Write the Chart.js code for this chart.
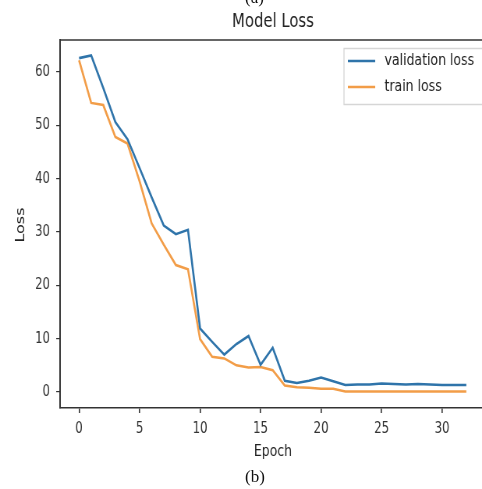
<!DOCTYPE html>
<html><head><meta charset="utf-8">
<script src="https://cdn.jsdelivr.net/npm/chart.js@4/dist/chart.umd.min.js"></script>
<style>
html,body{margin:0;padding:0;background:#fff;}
#wrap{position:relative;width:482px;height:489px;overflow:hidden;}
#squeeze{position:absolute;left:0;top:0;width:618px;height:489px;transform:scaleX(0.78);transform-origin:0 0;}
canvas{position:absolute;left:0;top:0;}
.cap{position:absolute;font-family:"Liberation Serif","DejaVu Serif",serif;font-size:17px;color:#111;}
</style></head>
<body>
<div id="wrap">
<div id="squeeze"><canvas id="c" width="618" height="489" style="width:618px;height:489px"></canvas></div>
<div class="cap" style="left:245px;top:-12px;">(a)</div>
<div class="cap" style="left:245px;top:467px;">(b)</div>
</div>
<script>
const epochs = [0,1,2,3,4,5,6,7,8,9,10,11,12,13,14,15,16,17,18,19,20,21,22,23,24,25,26,27,28,29,30,31,32];
const validationLoss = [62.6,63.1,57.0,50.6,47.4,42.0,36.5,31.2,29.6,30.4,11.9,9.4,7.0,9.0,10.5,5.1,8.3,2.1,1.7,2.1,2.7,2.0,1.3,1.4,1.4,1.6,1.5,1.4,1.5,1.4,1.3,1.3,1.3];
const trainLoss = [62.2,54.2,53.8,47.8,46.6,39.5,31.6,27.6,23.8,23.0,9.9,6.6,6.3,5.0,4.6,4.7,4.1,1.2,0.9,0.8,0.6,0.6,0.1,0.1,0.1,0.1,0.1,0.1,0.1,0.1,0.1,0.1,0.1];
const xTicks = [0,5,10,15,20,25,30];
const yTicks = [0,10,20,30,40,50,60];
const seriesNames = ["validation loss","train loss"];
const colors = ["#2f74aa","#f29d48"];

const decor = {
  id:'decor',
  afterDraw(chart){
    const ctx = chart.ctx, a = chart.chartArea;
    ctx.save();
    ctx.strokeStyle = '#333'; ctx.lineWidth = 1.6;
    ctx.beginPath(); ctx.moveTo(a.left, a.top); ctx.lineTo(a.right, a.top); ctx.stroke();
    ctx.fillStyle = '#222';
    ctx.font = '19px "DejaVu Sans"';
    ctx.textAlign = 'center'; ctx.textBaseline = 'middle';
    ctx.fillText('Model Loss', 350, 22);
    ctx.font = '16px "DejaVu Sans"';
    ctx.fillText('Epoch', 350, 452);
    ctx.save();
    ctx.translate(27, 225); ctx.rotate(-Math.PI/2);
    ctx.fillText('Loss', 0, 0);
    ctx.restore();
    // legend
    const lx = 441, ly = 48, lw = 200, lh = 56;
    ctx.fillStyle = 'rgba(255,255,255,0.9)';
    ctx.strokeStyle = '#d6d6d6'; ctx.lineWidth = 1.3;
    ctx.beginPath(); ctx.rect(lx, ly+0.5, lw, lh); ctx.fill(); ctx.stroke();
    ctx.font = '16px "DejaVu Sans"'; ctx.textAlign = 'left';
    seriesNames.forEach((n,i)=>{
      const y = ly + 13 + i*26;
      ctx.strokeStyle = colors[i]; ctx.lineWidth = 2.6;
      ctx.beginPath(); ctx.moveTo(446, y); ctx.lineTo(481, y); ctx.stroke();
      ctx.fillStyle = '#222';
      ctx.fillText(n, 493, y);
    });
    ctx.restore();
  }
};

new Chart(document.getElementById('c'), {
  type:'line',
  data:{
    labels: epochs,
    datasets:[
      {label:seriesNames[0], data: epochs.map((e,i)=>({x:e,y:validationLoss[i]})), borderColor:colors[0], borderWidth:2.6, pointRadius:0, tension:0, fill:false},
      {label:seriesNames[1], data: epochs.map((e,i)=>({x:e,y:trainLoss[i]})), borderColor:colors[1], borderWidth:2.6, pointRadius:0, tension:0, fill:false}
    ]
  },
  options:{
    responsive:false, animation:false, devicePixelRatio:1,
    layout:{padding:{top:40,left:0,right:0,bottom:0}},
    plugins:{legend:{display:false}, tooltip:{enabled:false}},
    scales:{
      x:{type:'linear', min:-1.57, max:33.3,
        afterBuildTicks(s){ s.ticks = xTicks.map(v=>({value:v})); },
        afterFit(s){ s.height = 81; },
        grid:{display:true, drawOnChartArea:false, drawTicks:true, tickLength:5, color:'#333', lineWidth:1.6},
        border:{display:true, color:'#333', width:1.6},
        ticks:{color:'#333', font:{family:'DejaVu Sans', size:15}, padding:7, maxRotation:0, autoSkip:false}
      },
      y:{type:'linear', min:-3.0, max:66.0,
        afterBuildTicks(s){ s.ticks = yTicks.map(v=>({value:v})); },
        afterFit(s){ s.width = 77; },
        grid:{display:true, drawOnChartArea:false, drawTicks:true, tickLength:5, color:'#333', lineWidth:1.2},
        border:{display:true, color:'#333', width:2},
        ticks:{color:'#333', font:{family:'DejaVu Sans', size:15}, padding:8, autoSkip:false}
      }
    }
  },
  plugins:[decor]
});
</script>
</body></html>
